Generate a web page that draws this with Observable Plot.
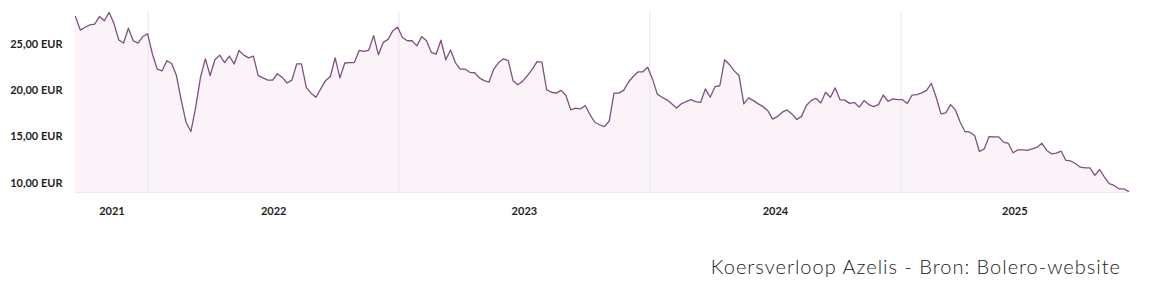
<!DOCTYPE html>
<html>
<head>
<meta charset="utf-8">
<script src="https://cdn.jsdelivr.net/npm/d3@7"></script>
<script src="https://cdn.jsdelivr.net/npm/@observablehq/plot@0.6"></script>
<style>
  html, body { margin: 0; padding: 0; background: #fff; width: 1168px; height: 286px; overflow: hidden; }
  #wrap { position: relative; width: 1168px; height: 286px; }
  #caption { position: absolute; right: 47px; top: 254px; font-family: Lato, sans-serif; font-weight: 300; font-size: 20px; line-height: 24px; letter-spacing: 1px; color: #222; white-space: nowrap; }
</style>
</head>
<body>
<div id="wrap">
  <div id="chart"></div>
  <div id="caption">Koersverloop Azelis - Bron: Bolero-website</div>
</div>
<script>
// First weekly observation (weekly closes)
const startDate = "2021-09-17";
// Weekly closing price in EUR
const prices = [
  27.94, 26.5, 26.8, 27.07, 27.15, 27.97, 27.5, 28.4, 27.2, 25.43,
  25.1, 26.7, 25.35, 25.1, 25.8, 26.1, 23.9, 22.3, 22.1, 23.2,
  22.9, 21.6, 18.9, 16.57, 15.57, 18.2, 21.4, 23.4, 21.6, 23.3,
  23.8, 23.0, 23.7, 22.85, 24.3, 23.8, 23.5, 23.7, 21.6, 21.35,
  21.1, 21.1, 21.8, 21.4, 20.8, 21.1, 22.85, 22.85, 20.33, 19.7,
  19.26, 20.16, 21.05, 21.5, 23.5, 21.35, 22.95, 23.0, 23.0, 24.3,
  24.2, 24.35, 25.9, 23.85, 25.17, 25.5, 26.43, 26.8, 25.7, 25.35,
  25.35, 24.8, 25.8, 25.35, 24.1, 23.9, 25.4, 23.3, 24.35, 23.0,
  22.3, 22.3, 21.95, 21.9, 21.35, 21.05, 20.9, 22.3, 23.0, 23.4,
  23.2, 21.05, 20.6, 21.0, 21.6, 22.3, 23.1, 23.05, 20.05, 19.8,
  19.7, 20.0, 19.45, 17.9, 18.1, 18.0, 18.37, 17.4, 16.57, 16.3,
  16.1, 16.7, 19.7, 19.7, 20.0, 20.9, 21.5, 22.0, 22.0, 22.5,
  21.24, 19.6, 19.26, 18.98, 18.55, 18.1, 18.55, 18.8, 19.0, 18.8,
  18.7, 20.16, 19.26, 20.4, 20.5, 23.3, 22.8, 22.1, 21.6, 18.55,
  19.2, 18.9, 18.55, 18.25, 17.8, 16.9, 17.2, 17.65, 17.9, 17.47,
  16.86, 17.2, 18.37, 18.9, 19.15, 18.65, 19.8, 19.26, 20.27, 19.0,
  18.95, 18.6, 18.7, 18.2, 18.9, 18.47, 18.26, 18.47, 19.5, 18.83,
  19.08, 19.0, 19.0, 18.6, 19.5, 19.55, 19.73, 20.0, 20.76, 19.26,
  17.47, 17.58, 18.47, 17.9, 16.57, 15.57, 15.5, 15.14, 13.42, 13.7,
  15.03, 15.0, 15.0, 14.42, 14.3, 13.28, 13.6, 13.6, 13.53, 13.7,
  13.88, 14.3, 13.53, 13.17, 13.24, 13.45, 12.45, 12.4, 12.1, 11.73,
  11.65, 11.65, 10.84, 11.48, 10.66, 9.95, 9.76, 9.4, 9.4, 9.12
];
const yTicks = [10, 15, 20, 25];
const yearLabels = [2021, 2022, 2023, 2024, 2025];
const yDomain = [9, 28.5];

const start = new Date(startDate + "T00:00:00Z");
const data = prices.map((v, i) => ({ date: d3.utcDay.offset(start, 7 * i), value: v }));
const first = data[0].date, last = data[data.length - 1].date;

// year boundaries for gridlines
const yearStarts = yearLabels.slice(1).map(y => new Date(Date.UTC(y, 0, 1)));
// label positions: middle of the visible part of each year
const labelDates = yearLabels.map(y => {
  const a = Math.max(+first, Date.UTC(y, 0, 1));
  const b = Math.min(+last, Date.UTC(y + 1, 0, 1));
  return new Date((a + b) / 2);
});

const chart = Plot.plot({
  width: 1168,
  height: 240,
  marginLeft: 75,
  marginRight: 40,
  marginTop: 11,
  marginBottom: 48,
  style: { fontFamily: "Lato, sans-serif", background: "transparent" },
  x: { type: "utc", domain: [first, last] },
  y: { domain: yDomain },
  marks: [
    Plot.areaY(data, { x: "date", y1: yDomain[0], y2: "value", fill: "#faf4f9", curve: "linear" }),
    Plot.ruleX(yearStarts, { stroke: "#ebe6eb", strokeWidth: 1 }),
    Plot.ruleY([yDomain[0]], { stroke: "#ece9ec", strokeWidth: 1 }),
    Plot.lineY(data, { x: "date", y: "value", stroke: "#7e5181", strokeWidth: 1.3, curve: "linear" }),
    Plot.axisY({
      ticks: yTicks,
      tickSize: 0,
      tickPadding: 13,
      tickFormat: d => d.toFixed(2).replace(".", ",") + " EUR",
      label: null,
      fontSize: 11,
      fontWeight: 700,
      fill: "#1e1e24"
    }),
    Plot.axisX({
      ticks: labelDates,
      tickSize: 0,
      tickPadding: 15,
      tickFormat: (d, i) => String(yearLabels[i]),
      label: null,
      fontSize: 11,
      fontWeight: 700,
      fill: "#1e1e24"
    })
  ]
});
document.getElementById("chart").appendChild(chart);
</script>
</body>
</html>
